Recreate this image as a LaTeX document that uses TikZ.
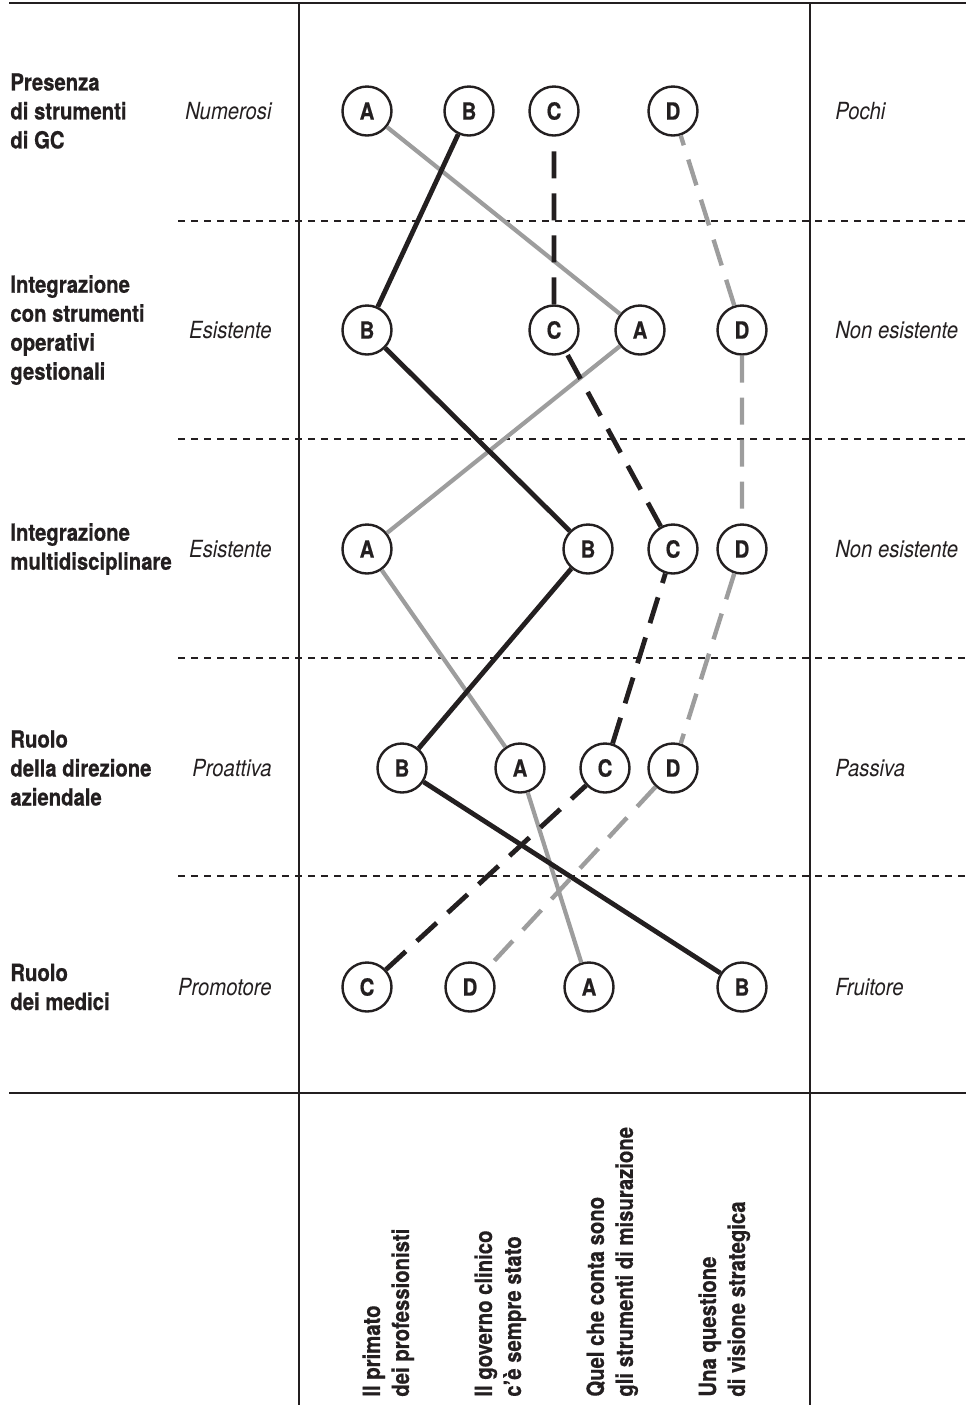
\documentclass[tikz,border=0pt]{standalone}
\usepackage{fontspec}
\setmainfont{TeX Gyre Heros}[FakeStretch=0.86,BoldFeatures={FakeBold=0.6}]
\definecolor{ink}{HTML}{231F20}
\definecolor{greyline}{HTML}{9D9D9D}
\newcommand{\labelfont}{\fontsize{11.8pt}{14.5pt}\selectfont}
\begin{document}
\begin{tikzpicture}[x=0.5pt,y=-0.5pt,
    letter/.style={circle,draw=ink,line width=1.2pt,fill=white,minimum size=24.5pt,inner sep=0pt,font=\labelfont\bfseries,text=ink},
    crit/.style={anchor=west,align=left,inner sep=0pt,font=\labelfont\bfseries,text=ink},
    lopole/.style={anchor=east,inner sep=0pt,font=\labelfont\itshape,text=ink},
    hipole/.style={anchor=west,inner sep=0pt,font=\labelfont\itshape,text=ink},
    profile/.style={rotate=90,anchor=north west,align=left,inner sep=0pt,font=\labelfont\bfseries,text=ink},
    rowsep/.style={ink,line width=0.7pt,dash pattern=on 3.5pt off 3pt},
    frame/.style={ink,line width=1.3pt},
    lineA/.style={greyline,line width=2.1pt},
    lineB/.style={ink,line width=2.4pt},
    lineC/.style={ink,line width=2.4pt,dash pattern=on 13.5pt off 7.5pt},
    lineD/.style={greyline,line width=2.2pt,dash pattern=on 13.5pt off 7.5pt}]
    \useasboundingbox (0,0) rectangle (969,1405);
    % Frame
    \draw[frame] (9,3) -- (966,3);
    \draw[frame] (9,1093) -- (966,1093);
    \draw[frame] (299,3) -- (299,1405);
    \draw[frame] (810,3) -- (810,1405);
    \foreach \y in {221,439,658,876}
        \draw[rowsep] (178,\y) -- (969,\y);
    % Criteria
    \node[crit] (crit1) at (10,111) {Presenza\\di strumenti\\di GC};
    \node[crit] (crit2) at (10,330) {Integrazione\\con strumenti\\operativi\\gestionali};
    \node[crit] (crit3) at (10,549) {Integrazione\\multidisciplinare};
    \node[crit] (crit4) at (10,768) {Ruolo\\della direzione\\aziendale};
    \node[crit] (crit5) at (10,987) {Ruolo\\dei medici};
    % Poles
    \node[lopole] (lo1) at (272,111) {Numerosi};
    \node[lopole] (lo2) at (272,330) {Esistente};
    \node[lopole] (lo3) at (272,549) {Esistente};
    \node[lopole] (lo4) at (272,768) {Proattiva};
    \node[lopole] (lo5) at (272,987) {Promotore};
    \node[hipole] (hi1) at (835,111) {Pochi};
    \node[hipole] (hi2) at (835,330) {Non esistente};
    \node[hipole] (hi3) at (835,549) {Non esistente};
    \node[hipole] (hi4) at (835,768) {Passiva};
    \node[hipole] (hi5) at (835,987) {Fruitore};
    % Nodes
    \node[letter] (A1) at (367,111) {A};
    \node[letter] (B1) at (469,111) {B};
    \node[letter] (C1) at (554,111) {C};
    \node[letter] (D1) at (673,111) {D};
    \node[letter] (B2) at (367,330) {B};
    \node[letter] (C2) at (554,330) {C};
    \node[letter] (A2) at (640,330) {A};
    \node[letter] (D2) at (742,330) {D};
    \node[letter] (A3) at (367,549) {A};
    \node[letter] (B3) at (588,549) {B};
    \node[letter] (C3) at (673,549) {C};
    \node[letter] (D3) at (742,549) {D};
    \node[letter] (B4) at (402,768) {B};
    \node[letter] (A4) at (520,768) {A};
    \node[letter] (C4) at (605,768) {C};
    \node[letter] (D4) at (673,768) {D};
    \node[letter] (C5) at (367,987) {C};
    \node[letter] (D5) at (470,987) {D};
    \node[letter] (A5) at (589,987) {A};
    \node[letter] (B5) at (742,987) {B};
    % Edges
    \draw[lineA] (A1) -- (A2) -- (A3) -- (A4) -- (A5);
    \draw[lineB] (B1) -- (B2) -- (B3) -- (B4) -- (B5);
    \draw[lineC] (C5) -- (C4) -- (C3) -- (C2) -- (C1);
    \draw[lineD] (D2) -- (D1);
    \draw[lineD] (D2) -- (D3) -- (D4) -- (D5);
    % Profiles
    \node[profile] (col1) at (362,1397) {Il primato\\dei professionisti};
    \node[profile] (col2) at (474,1397) {Il governo clinico\\c’è sempre stato};
    \node[profile] (col3) at (586,1397) {Quel che conta sono\\gli strumenti di misurazione};
    \node[profile] (col4) at (698,1397) {Una questione\\di visione strategica};
\end{tikzpicture}
\end{document}
